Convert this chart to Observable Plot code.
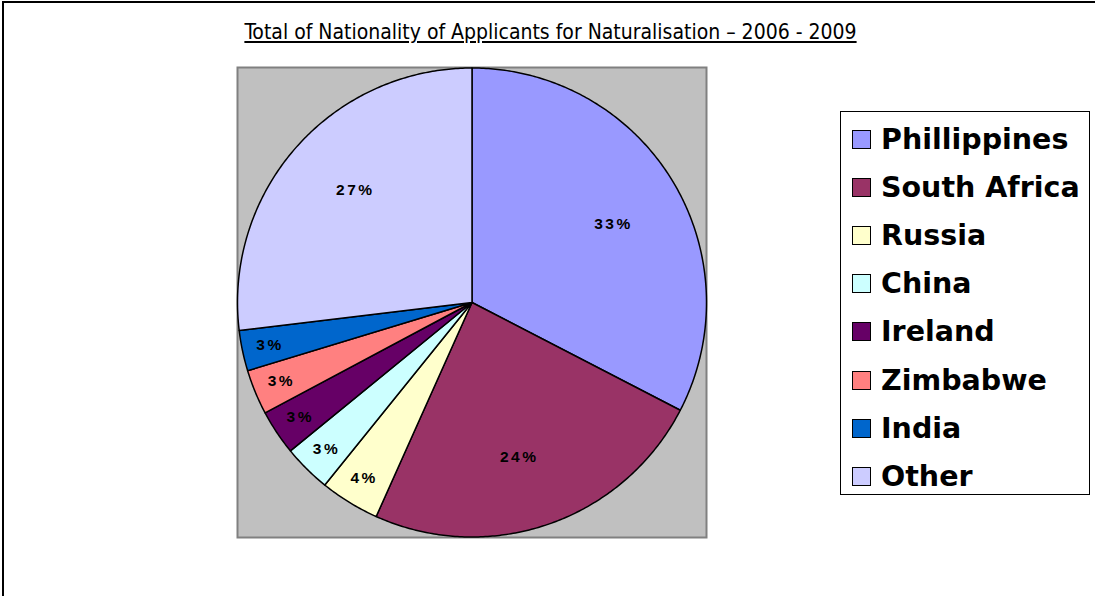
<!DOCTYPE html>
<html><head><meta charset="utf-8">
<script src="https://cdn.jsdelivr.net/npm/d3@7"></script>
<script src="https://cdn.jsdelivr.net/npm/@observablehq/plot@0.6"></script>
<style>
body{margin:0;background:#fff;}
#wrap{position:relative;width:1095px;height:596px;overflow:hidden;}
#border{position:absolute;left:2px;top:1px;width:1200px;height:700px;border-left:2px solid #000;border-top:2px solid #000;}
#title{position:absolute;left:0;top:20px;width:1101px;text-align:center;font-family:"DejaVu Sans Condensed","DejaVu Sans",sans-serif;font-size:21px;text-decoration:underline;color:#000;}
#chart{position:absolute;left:0;top:0;}
#legend{position:absolute;left:840px;top:111px;width:250px;height:384px;border:1.5px solid #000;box-sizing:border-box;background:#fff;font-family:"DejaVu Sans",sans-serif;font-weight:bold;font-size:28.5px;}
.row{position:absolute;left:11px;height:30px;display:flex;align-items:center;white-space:nowrap;}
.sw{width:17px;height:17px;border:1.5px solid #000;margin-right:10px;}
</style></head>
<body><div id="wrap"><div id="border"></div><div id="chart"></div><div id="title">Total of Nationality of Applicants for Naturalisation – 2006 - 2009</div><div id="legend"></div></div>
<script>
const countries = ["Phillippines","South Africa","Russia","China","Ireland","Zimbabwe","India","Other"];
const shares = [32.6, 24.1, 4.1, 3.3, 3.1, 3.1, 2.8, 26.9];
const labels = ["33%","24%","4%","3%","3%","3%","3%","27%"];
const colors = ["#9999FF","#993366","#FFFFCC","#CCFFFF","#660066","#FF8080","#0066CC","#CCCCFF"];

const arcs = d3.pie().sort(null).value(d => d)(shares);
const pt = (a, r) => [r * Math.sin(a), -r * Math.cos(a)];
const slices = arcs.map((a, i) => {
  const n = Math.max(4, Math.ceil((a.endAngle - a.startAngle) / 0.01));
  const ring = [[0, 0]];
  for (let k = 0; k <= n; k++) ring.push(pt(a.startAngle + (a.endAngle - a.startAngle) * k / n, 1));
  ring.push([0, 0]);
  return {type: "Feature", properties: {name: countries[i]}, geometry: {type: "Polygon", coordinates: [ring]}};
});
const labelData = arcs.map((a, i) => {
  const big = shares[i] > 10;
  const mid = (a.startAngle + a.endAngle) / 2 + (big ? 0.04 : 0);
  const r = big ? 0.69 : 0.88;
  const [x, y] = pt(mid, r);
  return {x, y, label: labels[i]};
});

const plot = Plot.plot({
  width: 1095, height: 596,
  marginLeft: 237, marginRight: 389, marginTop: 67, marginBottom: 59,
  projection: {type: "identity", domain: {type: "Polygon", coordinates: [[[-1,-1],[1,-1],[1,1],[-1,1],[-1,-1]]]}},
  color: {domain: countries, range: colors},
  marks: [
    Plot.frame({fill: "#C0C0C0", stroke: "#808080", strokeWidth: 2}),
    Plot.geo(slices, {fill: d => d.properties.name, stroke: "#000", strokeWidth: 1.5}),
    Plot.text(labelData, {x: "x", y: "y", text: "label", fontFamily: "Liberation Sans, Arial, sans-serif", fontWeight: "bold", fontSize: 15.5, fill: "#000"})
  ]
});
document.getElementById("chart").appendChild(plot);
plot.querySelectorAll("text").forEach(t => t.style.letterSpacing = "2.5px");

const leg = document.getElementById("legend");
countries.forEach((c, i) => {
  const row = document.createElement("div");
  row.className = "row";
  row.style.top = (12 + i * 48.2) + "px";
  const sw = document.createElement("div");
  sw.className = "sw"; sw.style.background = colors[i];
  row.appendChild(sw);
  row.appendChild(document.createTextNode(c));
  leg.appendChild(row);
});
</script></body></html>
